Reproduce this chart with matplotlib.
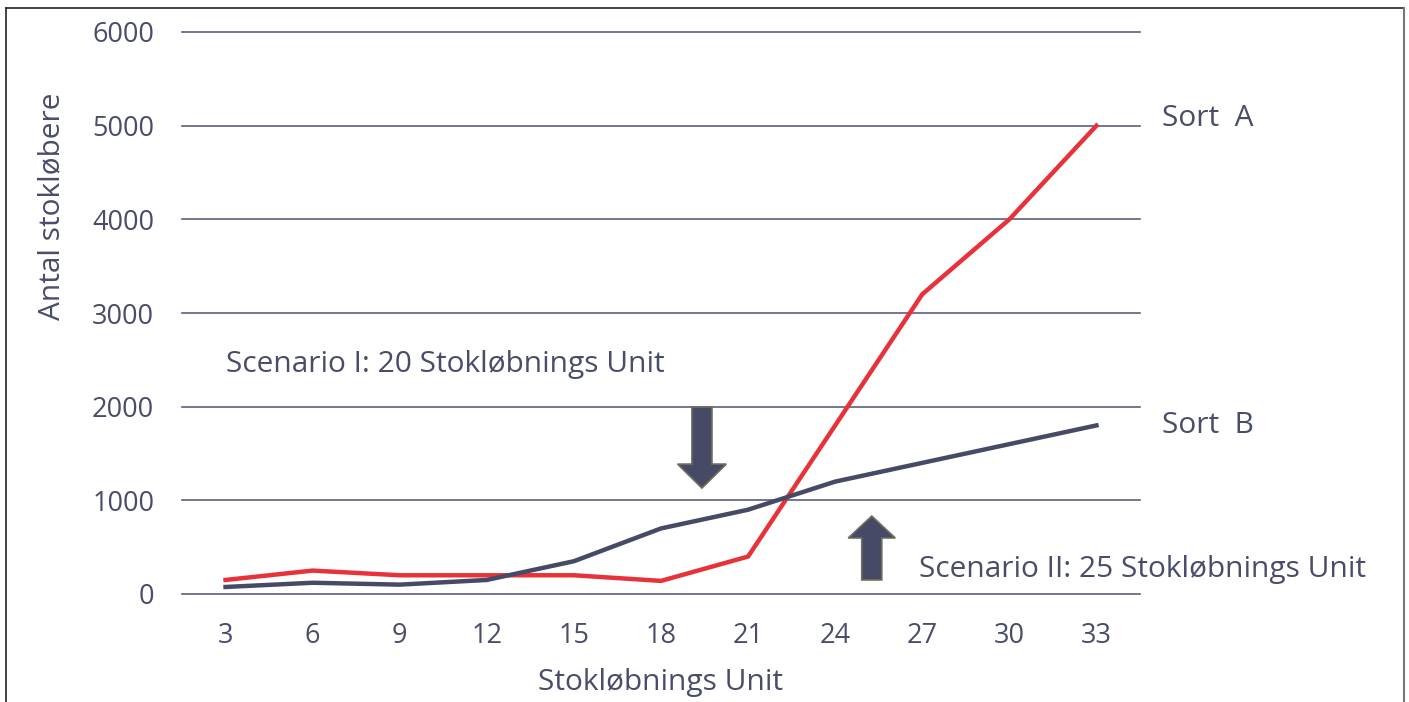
import matplotlib
matplotlib.use("Agg")
import matplotlib.pyplot as plt
from matplotlib.patches import FancyArrow
from matplotlib.lines import Line2D

categories = ["3", "6", "9", "12", "15", "18", "21", "24", "27", "30", "33"]
sort_a = [150, 250, 200, 200, 200, 140, 400, 1800, 3200, 4000, 5000]
sort_b = [75, 120, 100, 150, 350, 700, 900, 1200, 1400, 1600, 1800]
y_ticks = [0, 1000, 2000, 3000, 4000, 5000, 6000]

TXT = "#4A4D6A"
RED = "#E8323A"
DARK = "#464A66"
GRID = "#5C5F7A"
FS = 21.5
TFS = 19.5

plt.rcParams['font.family'] = ['Open Sans', 'DejaVu Sans']

fig = plt.figure(figsize=(14.09, 7.02), dpi=100)
ax = fig.add_axes([182/1409, 1-594/702, (1140-182)/1409, (594-32)/702])

x = list(range(len(categories)))
ax.plot(x, sort_a, color=RED, lw=3.2, solid_joinstyle='miter', zorder=3)
ax.plot(x, sort_b, color=DARK, lw=3.2, solid_joinstyle='miter', zorder=3)

ax.set_xlim(-0.5, len(categories) - 0.5)
ax.set_ylim(0, 6000)
ax.set_xticks(x)
ax.set_xticklabels(categories)
ax.set_yticks(y_ticks)
ax.set_yticklabels([str(v) for v in y_ticks])
for s in ax.spines.values():
    s.set_visible(False)
ax.tick_params(length=0, labelsize=TFS, colors=TXT)
ax.tick_params(axis='y', pad=20)
ax.tick_params(axis='x', pad=20)
for v in y_ticks:
    ax.axhline(v, color=GRID, lw=1.2, clip_on=False, zorder=1)

ax.set_xlabel("Stokløbnings Unit", fontsize=FS, color=TXT, labelpad=13)
fig.text(52/1409, 1-206/702, "Antal stokløbere", rotation=90, fontsize=FS,
         color=TXT, ha='center', va='center')

ax.text(1.023, 5080, "Sort  A", transform=ax.get_yaxis_transform(),
        fontsize=FS, color=TXT, ha='left', va='center')
ax.text(1.023, 1800, "Sort  B", transform=ax.get_yaxis_transform(),
        fontsize=FS, color=TXT, ha='left', va='center')
ax.text(0, 2455, "Scenario I: 20 Stokløbnings Unit", fontsize=FS, color=TXT,
        ha='left', va='center')
ax.text(7.96, 260, "Scenario II: 25 Stokløbnings Unit", fontsize=FS, color=TXT,
        ha='left', va='center', clip_on=False)

# arrows
ax.add_patch(FancyArrow(5.47, 1996, 0, 1131-1996, width=0.23, head_width=0.56,
                        head_length=1387-1131, length_includes_head=True,
                        facecolor=DARK, edgecolor="#6E6E5E", lw=1.2, zorder=4))
ax.add_patch(FancyArrow(7.42, 150, 0, 832-150, width=0.23, head_width=0.54,
                        head_length=832-598, length_includes_head=True,
                        facecolor=DARK, edgecolor="#6E6E5E", lw=1.2, zorder=4))

# frame around figure (left, top, right)
fx = [5.5/1409, 5.5/1409, 1403.5/1409, 1403.5/1409]
fy = [0, 1-7.5/702, 1-7.5/702, 0]
fig.add_artist(Line2D(fx[:2], fy[:2], color="#222222", lw=1.2))
fig.add_artist(Line2D(fx[1:3], fy[1:3], color="#222222", lw=1.2))
fig.add_artist(Line2D(fx[2:], fy[2:], color="#777777", lw=1.5))

fig.savefig("out.png", dpi=100)
